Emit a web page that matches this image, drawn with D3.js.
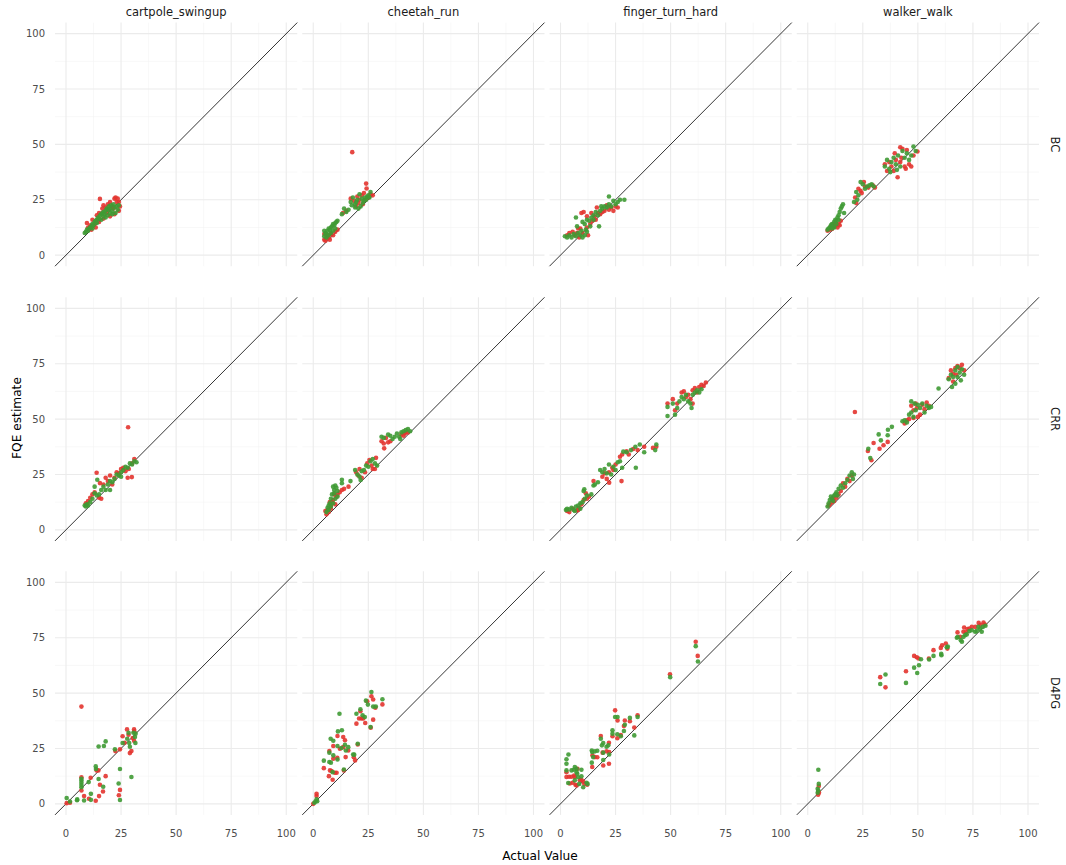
<!DOCTYPE html>
<html><head><meta charset="utf-8">
<script src="https://cdn.jsdelivr.net/npm/d3@7"></script>
<style>body{margin:0;background:#fff} text{font-family:"DejaVu Sans",sans-serif}</style>
</head><body><svg id="c" width="1066" height="865"></svg>
<script>
const envs = ["cartpole_swingup","cheetah_run","finger_turn_hard","walker_walk"];
const algos = ["BC","CRR","D4PG"];
const ticks = [0,25,50,75,100];
const minorTicks = [12.5,37.5,62.5,87.5];
const xTitle = "Actual Value";
const yTitle = "FQE estimate";

// ---- BC ----
const bc_cartpole_red = [[9.5,14.5],[10,12.5],[11,13.5],[12,16],[13,14],[14,18],[15,19],[15.4,25.4],[16.5,21],[17,22.5],[18,21.5],[19,23],[20,24],[21,22],[22,25.5],[22.5,26],[23,24],[23.5,25.5],[24,24],[24.5,22],[24,20],[22,18.5],[20,17.5],[18.5,19],[13.5,12.5],[11.5,11.5],[15,15],[17,16.5],[19.5,20.5],[21.5,21]];
const bc_cartpole_green = [[8.5,10],[9,10.5],[9.5,11.5],[10,11],[10.5,12],[11,12.5],[11.5,13],[12,14],[12.5,13.5],[13,15],[13.5,15.5],[14,16],[14.5,17],[15,16.5],[15.5,18],[16,18.5],[16.5,19],[17,19.5],[17.5,18.5],[18,20],[18.5,21],[19,20.5],[19.5,22],[20,21],[20.5,22.5],[21,20],[21.5,23],[22,21.5],[22.5,19],[23,22],[23.5,20.5],[24,22.5],[17,17.5],[19,18],[21,18.5],[12,12],[14,14.5],[16,16],[18,17],[20,19]];
const bc_cheetah_red = [[5,7],[5.5,6.5],[6,7.5],[7,8],[7.5,7],[8,9.5],[9,9],[10,10.5],[11,11.5],[6.5,9],[5,9.5],[13.5,19],[15,20],[17.7,46.5],[17,25.5],[18.5,24.5],[19.5,22],[20,26.5],[21,25],[22,27],[23,28],[23.5,25],[24,32.3],[24.2,30.1],[25,26],[26,27.5],[27,27],[22.5,23],[20.5,23.5]];
const bc_cheetah_green = [[5,11],[5.5,10],[6,9.5],[6.5,11],[7,12],[7.5,11.5],[8,12.5],[8.5,13],[9,14],[9.5,13.5],[10,14.5],[10.5,15],[11,15.5],[6,8],[7,9],[8,10],[9,11],[10,12],[5,8.5],[13,18.5],[14,21],[15,19.5],[16,20.5],[17,24],[17.5,22.5],[18,26],[19,23],[19.5,24],[20,25],[21,27.5],[21.5,22],[22,25.5],[22.5,23.5],[23,24.5],[23.5,26],[24,25],[24.5,26.5],[25,27],[26,28.5],[25.5,26],[20.5,21],[19,21.5]];
const bc_finger_red = [[3,9],[4,10],[5.5,10.5],[6.5,9],[7.5,10],[8.5,8],[9,12],[10,10],[12,12.5],[13.5,14],[14.5,15.5],[15.5,17.5],[16,16],[17,19],[18,18.5],[19,19.5],[20,20],[21,22.5],[22,20.5],[23,21.5],[24,20],[25,22],[26,21.5],[9.5,19],[10.5,19.5],[12,17.5],[14,19],[16.5,21.5],[12.5,9],[8,12]];
const bc_finger_green = [[2,8.5],[3,8],[4,9],[5,8],[6,9.5],[7,8.5],[8,10],[9,9],[10,8],[11,9],[12,10.5],[9.5,11],[7.5,13],[10,15],[11,14],[12,16],[13,15.5],[14,17],[15,18],[16,19.5],[17,18],[18,20],[19,21],[20,22],[21,21.5],[22,23],[23,22],[24,24.5],[25,23],[26,24],[27,25],[29,25],[22,26.5],[17.5,13],[15,16],[13.5,13],[11.5,11.5],[18.5,22],[7,17]];
const bc_walker_red = [[9,11],[10,11.5],[11,11.8],[12,13],[13,13.5],[14,14],[15,15.5],[12.5,14.5],[11.5,14],[10.5,12.8],[13.5,12.5],[14.5,13.5],[21.5,26],[22,23.5],[23,30],[24,29],[25.5,33],[26,31],[27.5,30.5],[29.5,31.5],[30.5,30.5],[24.5,28],[35,41],[36,38],[37,42],[38,40],[39,38],[40,43],[40.8,35.2],[42,42],[42,48.7],[43,48],[44,40],[45,47.5],[46,41],[47,40],[48,45],[49.8,46.8],[39.5,46],[42.5,44],[44.5,39]];
const bc_walker_green = [[9,11.5],[9.5,12],[10,12.5],[10.5,13.5],[11,14],[11.5,13],[12,15],[12.5,16],[13,15.5],[13.5,17],[14,18],[14.5,19.5],[15,21],[15.5,22],[16,23],[13,14],[12,12.5],[11,12],[14,16],[16.5,19],[21,24],[22,28.5],[24,33],[25,32],[26,30],[27,31],[28,31.5],[29,32],[30,31],[23,27],[22.5,25],[35,40],[36,43],[37,39],[38,42],[39,44],[40,41],[41,45],[42,40],[43,47],[44,44],[45,46],[46,43],[47,45],[48,49],[49,47],[37.5,37.5],[40.5,38.5]];

// ---- CRR ----
const crr_cartpole_red = [[9,12],[10,13],[11,14.5],[12,16],[13.9,25.8],[15.4,21.1],[16,14],[17,20.5],[18,23.5],[19,22],[20,24.5],[21,20.5],[22,23.5],[23,26],[24,25.5],[25,27.5],[26,28],[27,26.5],[28,23.5],[29.9,23.8],[30,30],[31,32],[28.5,27.5],[13,17],[15,14.5],[28.2,46.3]];
const crr_cartpole_green = [[8.5,11],[9,10.5],[9.5,11.5],[10,11],[11,12.5],[12,14],[14.2,22.6],[13,19.5],[14,15.5],[15,16],[16,18],[17,19.5],[18,18],[19,20.5],[20,22],[21,21.5],[22,23],[23,25],[24,24.5],[25,26],[26,27],[27,28.5],[28,28],[29,30],[30,29.5],[31,31],[32,30.5],[13,16.5],[20,18],[25,24]];
const crr_cheetah_red = [[5.5,8.5],[6,7],[6.5,9],[7,8],[8,11],[8.5,12.5],[9,13.5],[10,11.5],[10.5,15],[11,16],[12,17],[13,18],[8,9.5],[9.5,16],[7.5,12.5],[16,19.5],[14,18.5],[19.5,26],[20.5,24.5],[21,27.5],[22,23.5],[23.5,26],[24.5,30],[25.5,31.5],[26.5,29],[27,27.5],[28.5,32.5],[28,27.5],[31,40],[32,39],[33,41.5],[34,39.5],[35,40],[32.2,36.8],[40,43],[41,42.5],[42,44],[43,44],[41.5,43.5]];
const crr_cheetah_green = [[6,8],[6.5,10],[7,11],[7.5,12],[8,14],[8.5,16],[9,19.5],[9.5,18],[10,20],[11,17.5],[13,22.6],[13,21],[16.9,22],[7,9],[8,10.5],[9,12],[10,14],[11,15],[9.5,16.5],[10.5,19],[19,27],[20,25],[21,24],[22,26.5],[23,27],[24,29],[25,28.5],[26,31],[27,32],[28,30],[29,29],[21.5,22.5],[31,42],[32,41.5],[34,43],[35,42.5],[36,41],[37,42],[38,43.5],[39,42],[40,44],[41,44.5],[42,45],[43,45.5],[44,44.5],[39.5,41]];
const crr_finger_red = [[3,8.5],[4,8],[5.5,9.5],[7.5,8.8],[8.5,10],[9.5,11.5],[10.5,13.5],[12,14],[13,15],[11.5,16.5],[8,9],[15,22],[19,24],[20,25.5],[21,23],[22,26],[23.5,28],[24,27],[25,29.5],[27,33],[28,34],[30,35.5],[31,34],[33,36.5],[35,36],[38,37.5],[42,37],[43.5,37.5],[27.7,22],[22.1,21.3],[48.6,57],[51,59],[52,54],[53,57],[55,62],[56,62.5],[57,60],[58,61],[59,59],[60,63],[61,64],[62,62],[63,64.5],[64,65.5],[65,65],[66,66.5],[60,57]];
const crr_finger_green = [[2.5,9],[3,9.5],[4,9.2],[5,10],[6,9],[7,10.5],[8,11],[9,12],[10,12.5],[11,14],[12,15.5],[10.5,17.5],[10.8,18.3],[9,9.5],[6.5,8.5],[14,16],[15,20],[15.6,20.5],[17,21.5],[18,27],[19,26],[20,27.5],[21,25.5],[22,29.5],[23,25],[24,28.5],[25,27],[26,30.5],[27,31],[28,28],[28.5,35.3],[30,35],[32,36],[34,37.5],[36,38.5],[38,35],[43,36],[43.5,38.5],[34.2,28],[48.6,51.4],[48.6,55.5],[51,57],[52,52],[53,55],[54,58],[55,60],[56,59],[57,61],[58,58],[59,57],[60,61],[61,62],[62,63],[63,62],[64,63.5],[59.5,55]];
const crr_walker_red = [[9.5,11],[10,11.5],[11,12.5],[12,13],[13,14.5],[14,16],[15,17.5],[16,21],[17,19.5],[18,23],[19,22],[20,24.5],[21.4,53.2],[11.5,14.5],[29.9,39.2],[32.6,36.6],[34.4,38.2],[36.3,39.7],[27.3,35.6],[28.9,31.4],[44,48],[45,49.5],[46,50],[47,56],[48,54],[49,57],[50,51],[51,52],[52,56.5],[53,54.5],[54,57.5],[55,56],[49.5,55],[48,50.5],[64,68.5],[65,72],[66,70.5],[67,73],[68,74],[69,73],[70,74.5],[71,72],[66,67],[67.5,70]];
const crr_walker_green = [[9,10.5],[9.5,12],[10,13.5],[10.5,15],[11,14],[11.5,13],[12,15.5],[13,17],[14,18.5],[15,20],[16,19],[17,21],[18,22.5],[19,24.5],[20,26],[21,25],[20.5,23],[13.5,15.5],[12.5,16],[27.5,36.6],[32.2,43.1],[36.3,42.7],[38.2,46.5],[36.4,45.2],[33.2,40.4],[28.4,32.4],[43,49],[44,49.5],[45,48.5],[46,52],[47,53],[48,51],[49,54],[50,56.5],[51,55],[52,57],[53,53],[54,56],[55,55],[56,55.5],[48.5,57],[47,58],[59.4,63.8],[64,68],[65,70],[66,69],[67,72],[68,73.5],[69,71],[70,72.5],[71,70],[69.5,67.5],[67,66],[68,69],[65.5,64.5]];

// ---- D4PG ----
const d4pg_cartpole_red = [[7,43.9],[0.3,0.3],[1.8,0.5],[7,12],[7,6],[8.2,3.5],[10.4,2.3],[11.2,11.8],[13.5,1.4],[13.9,15.1],[14.7,15.1],[15,3.5],[15.4,8.6],[16.8,5.6],[18,12.5],[22.4,23.8],[24.5,24.6],[24,3.9],[24.5,6.3],[25.7,30.5],[26.6,27.6],[27.7,33.6],[28.4,31.2],[29,22.9],[29.7,23.8],[30.9,33.6],[31,32.7],[30.9,28.5],[30.3,29.7]];
const d4pg_cartpole_green = [[0.3,2.6],[1.8,1],[5.1,2],[5,1.6],[7,7.5],[7,8.5],[7,9.5],[7,10.5],[7,11.3],[8.2,1.5],[10.3,9.8],[11.3,4.5],[11.3,1.8],[13.5,16.9],[13.6,15.7],[14.8,25.9],[14.8,11.2],[16.9,7.7],[17.2,26.1],[18,28.2],[22.2,24.6],[24.5,15.7],[23.9,9.2],[24.5,1.7],[25.7,27.5],[27.8,29.4],[28.4,32.1],[29,25.8],[29.7,12.1],[28.7,27.5],[30.6,32.1],[31.6,31.7],[31.5,27.5],[31.3,30.2]];
const d4pg_cheetah_red = [[0,0],[1.5,4.5],[1.5,3.5],[4.8,16.1],[7.1,12.5],[8.8,10.9],[7.6,15.1],[7.3,23.8],[9.1,26.1],[9.1,20.4],[8.3,14.8],[9.8,14],[10.6,14],[10.9,20.8],[11,30.6],[13.6,30.2],[14.4,28.7],[12.1,24.9],[13.6,25.6],[14.7,21.1],[15.9,24.1],[13.9,15.1],[18.4,21],[19,19.6],[20.2,26.8],[19.6,36.2],[20.8,38.5],[21.4,41.8],[21.9,38.5],[22.7,38.5],[23.6,36.5],[24.5,46.3],[26.1,34.4],[26.4,48.6],[27.2,38],[27.2,47.1],[28.2,43.4],[31.4,44.9]];
const d4pg_cheetah_green = [[1.5,2],[1,1],[0.5,0.5],[1.8,1.2],[4.8,19.5],[7.3,18.9],[7.3,23.1],[7.9,29.4],[9.1,28.5],[9.1,21.9],[8.8,14.3],[8,18.6],[11,20],[11.2,32.7],[11,26.1],[11.9,40.7],[13,33.2],[12.8,25.2],[14.4,26.7],[14.8,24.1],[15.9,25.6],[13.9,15.5],[18.1,22.3],[18.6,22.2],[20.2,27.1],[19.6,40.7],[21.4,42.7],[22.4,40],[23.4,39.2],[23.9,46.6],[24.8,44.8],[26,34.7],[26.4,50.5],[27.2,43.9],[28.4,43.9],[31.4,47.2]];
const d4pg_finger_red = [[61.4,73.2],[62.3,66.8],[49.7,58.5],[24.8,42.2],[25.9,37.6],[31.5,37.3],[29.2,37.6],[28.8,35.1],[35,40],[33.5,34.5],[23.6,30.5],[25.8,29.6],[27.4,31.1],[18.3,30.6],[20.9,23.7],[22,27.6],[22.1,23.4],[22,18.1],[19.4,17.3],[19.1,23.1],[14.5,21.9],[15.6,21.1],[16.7,21],[14.4,16.6],[2.7,14.3],[2.7,12.1],[4.2,9.2],[3.9,12.2],[5,12.2],[6.2,12.8],[6.5,12.1],[6.8,8.6],[7.3,8.3],[7.7,15.8],[8.8,10.6],[9.5,10.9],[10.3,10.1],[10.8,9],[12.1,8.6],[5.5,9.5]];
const d4pg_finger_green = [[61.4,71.2],[62.4,64.3],[49.8,57.2],[24.8,39.2],[25.9,39.2],[31.5,38.8],[29.2,35.7],[28.8,32.9],[35,39.2],[33.5,30.9],[23.6,33.2],[23.6,31.7],[25.8,31.4],[27.4,30.5],[18.3,29.4],[18.8,26.4],[19.4,27.5],[20.9,25.8],[21.7,26.4],[22.1,22.3],[19.4,19.8],[19.4,23.1],[14.2,24.1],[14.4,23.4],[15.6,23.7],[16.7,24],[14.2,18.6],[14.8,21.1],[3.6,22.3],[2.7,20.1],[2.7,18.1],[2.7,15.1],[3.5,9.4],[5,15.1],[6.1,15.4],[6.5,16.6],[7.3,15.8],[6.5,10.6],[7.6,13.6],[7.3,14.3],[8.5,9],[9.5,12.4],[9.5,15.4],[10.3,7.5],[11.8,9.5],[12.3,9],[8,12]];
const d4pg_walker_red = [[5,8],[4.8,5.6],[4.7,4.1],[5.1,5],[32.9,57.2],[35.3,52.6],[44.6,59.9],[48.3,66.8],[49.5,66.2],[50.3,65.6],[55,65.6],[57.1,69.4],[60.4,70.4],[61,71.6],[62.7,72.4],[63.4,70.1],[68,77.4],[69.2,75.4],[70.7,77.7],[71,79.6],[71.9,77.4],[72.5,78.9],[73.4,79.2],[74.5,79.9],[76.1,79.9],[77.6,81.7],[78.5,80.7],[79.8,81.9],[80.4,81]];
const d4pg_walker_green = [[4.8,15.4],[5,9],[4.5,6.8],[4.5,5],[4.8,6],[32.9,54.1],[35.3,58.4],[44.6,54.6],[48.3,61.5],[49.7,59.1],[50.5,62.6],[51.4,65.3],[55.1,65.2],[57.1,66.8],[60.6,67.7],[60.7,67.1],[63.1,70.7],[63.6,71],[67.7,75],[69.5,73.9],[70,73.2],[70.7,75.4],[71.5,76.2],[72.2,76.5],[73.4,78],[76,77.7],[76.7,78],[77.5,79.9],[78.2,78.9],[79.5,79.9],[79,77.7],[80.7,80.4],[74.5,78.4],[68.1,75.3]];

const seriesColors = {red:"#e3342f", green:"#3f9a34"};
const table = {
  BC:   {cartpole_swingup:[bc_cartpole_red,bc_cartpole_green], cheetah_run:[bc_cheetah_red,bc_cheetah_green], finger_turn_hard:[bc_finger_red,bc_finger_green], walker_walk:[bc_walker_red,bc_walker_green]},
  CRR:  {cartpole_swingup:[crr_cartpole_red,crr_cartpole_green], cheetah_run:[crr_cheetah_red,crr_cheetah_green], finger_turn_hard:[crr_finger_red,crr_finger_green], walker_walk:[crr_walker_red,crr_walker_green]},
  D4PG: {cartpole_swingup:[d4pg_cartpole_red,d4pg_cartpole_green], cheetah_run:[d4pg_cheetah_red,d4pg_cheetah_green], finger_turn_hard:[d4pg_finger_red,d4pg_finger_green], walker_walk:[d4pg_walker_red,d4pg_walker_green]}
};

const svg = d3.select("#c");
const pw = 242.25, ph = 243.6, gapX = 5;
const left0 = 55;
const tops = [22.6, 297.3, 571.3];
const x = d3.scaleLinear().domain([-5,105]).range([0,pw]);
const y = d3.scaleLinear().domain([-5,105]).range([ph,0]);
const grey30 = "#4d4d4d";

algos.forEach((algo, r) => {
  envs.forEach((env, c) => {
    const g = svg.append("g").attr("transform", `translate(${left0 + c*(pw+gapX)},${tops[r]})`);
    g.selectAll(".mx").data(minorTicks).join("line")
      .attr("x1", d=>x(d)).attr("x2", d=>x(d)).attr("y1",0).attr("y2",ph)
      .attr("stroke","#f3f3f3").attr("stroke-width",0.6);
    g.selectAll(".my").data(minorTicks).join("line")
      .attr("y1", d=>y(d)).attr("y2", d=>y(d)).attr("x1",0).attr("x2",pw)
      .attr("stroke","#f3f3f3").attr("stroke-width",0.6);
    g.append("g").selectAll("line").data(ticks).join("line")
      .attr("x1", d=>x(d)).attr("x2", d=>x(d)).attr("y1",0).attr("y2",ph)
      .attr("stroke","#ebebeb").attr("stroke-width",1.1);
    g.append("g").selectAll("line").data(ticks).join("line")
      .attr("y1", d=>y(d)).attr("y2", d=>y(d)).attr("x1",0).attr("x2",pw)
      .attr("stroke","#ebebeb").attr("stroke-width",1.1);
    g.append("line").attr("x1",x(-5)).attr("y1",y(-5)).attr("x2",x(105)).attr("y2",y(105))
      .attr("stroke","#111").attr("stroke-width",0.85);
    const [red, green] = table[algo][env];
    [[red,"red"],[green,"green"]].forEach(([pts,key]) => {
      g.append("g").selectAll("circle").data(pts).join("circle")
        .attr("cx", d=>x(d[0])).attr("cy", d=>y(d[1])).attr("r",2.3)
        .attr("fill", seriesColors[key]).attr("fill-opacity",0.9);
    });
    if (c === 0) {
      g.append("g").selectAll("text").data(ticks).join("text")
        .attr("x",-10).attr("y", d=>y(d)).attr("dy","0.35em").attr("text-anchor","end")
        .attr("font-size",10).attr("fill",grey30).text(d=>d);
    }
    if (r === algos.length-1) {
      g.append("g").selectAll("text").data(ticks).join("text")
        .attr("x", d=>x(d)).attr("y", ph+19).attr("dy","0.35em").attr("text-anchor","middle")
        .attr("font-size",10).attr("fill",grey30).text(d=>d);
    }
    if (r === 0) {
      g.append("text").attr("x",pw/2).attr("y",-7).attr("text-anchor","middle")
        .attr("font-size",11.5).attr("fill","#1a1a1a").text(env);
    }
    if (c === envs.length-1) {
      g.append("text").attr("transform",`translate(${pw+16},${ph/2}) rotate(90)`)
        .attr("text-anchor","middle").attr("dy","0.35em")
        .attr("font-size",11.5).attr("fill","#1a1a1a").text(algo);
    }
  });
});

svg.append("text").attr("x",540).attr("y",856).attr("dy","0.35em").attr("text-anchor","middle")
  .attr("font-size",12.2).attr("fill","#000").text(xTitle);
svg.append("text").attr("transform","translate(17,418) rotate(-90)").attr("dy","0.35em")
  .attr("text-anchor","middle").attr("font-size",12.2).attr("fill","#000").text(yTitle);
</script></body></html>
